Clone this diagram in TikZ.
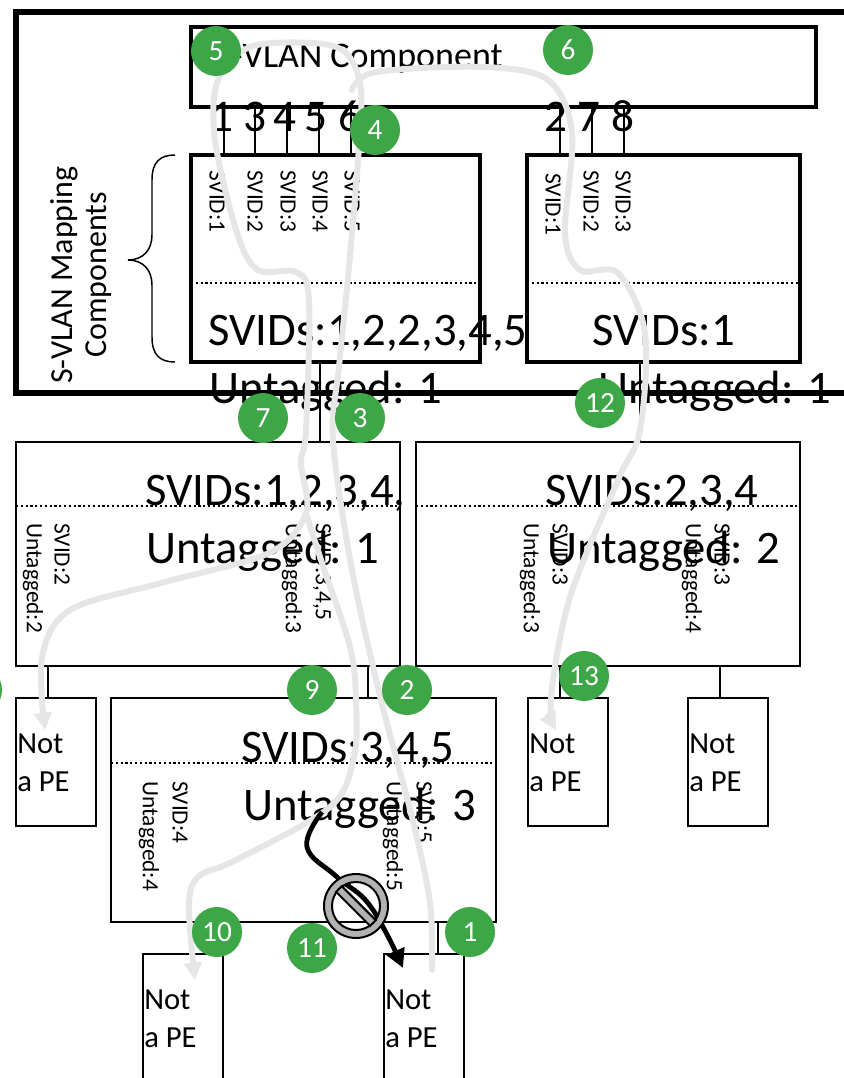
\documentclass[tikz,border=0pt]{standalone}
\usepackage{fontspec}
\setmainfont{Carlito}
\usepackage[x11names, svgnames]{xcolor}
\usetikzlibrary{arrows.meta, calc}
\definecolor{stepgreen}{HTML}{3DA646}
\definecolor{pathgray}{HTML}{E6E6E6}
\tikzset{
	thickbox/.style={draw, line width=3pt, inner sep=0pt, outer sep=0pt},
	thinbox/.style={draw, line width=1.9pt, inner sep=0pt, outer sep=0pt},
	link/.style={line width=1.3pt},
	splitline/.style={line width=1.6pt, dotted},
	bigtext/.style={anchor=base west, inner sep=0pt, font=\fontsize{35}{40}\selectfont},
	porttext/.style={anchor=base, inner sep=0pt, font=\fontsize{34}{40}\selectfont},
	sidetext/.style={rotate=-90, anchor=west, inner sep=0pt, font=\fontsize{17.5}{20}\selectfont},
	petext/.style={anchor=north west, inner sep=0pt, align=left, font=\fontsize{23}{28}\selectfont},
	steppoint/.style={circle, fill=stepgreen, text=white, minimum size=37.5pt, inner sep=0pt, font=\fontsize{22}{26}\selectfont},
	grayroute/.style={draw=pathgray, line width=4.5pt, line cap=round},
}
\newcommand{\PaperBox}[6]{
	\def\lstyle{#1}
	\def\lname{#2}
	\node[\lstyle, minimum width={(#5-#3)*0.75pt}, minimum height={(#6-#4)*0.75pt}] (\lname) at ({(#3+#5)/2},{(#4+#6)/2}) {};
}
\newcommand{\NotPE}[3]{
	\PaperBox{thinbox}{#1}{#2}{#3}{#2+80}{#3+128+60}
	\node[petext] (#1text) at ($ (#1.north west)+(1,36) $) {Not\\a PE};
}

\begin{document}
\begin{tikzpicture}[x=0.75pt, y=-0.75pt, line cap = butt]

	\useasboundingbox (0,0) rectangle (843,1078);

	% outer frame
	\draw[line width=4.5pt] (16,12) rectangle (900,393);

	\PaperBox{thickbox}{svlan}{191}{27}{816}{107}
	\PaperBox{thickbox}{mapl}{191}{155}{480}{362}
	\PaperBox{thickbox}{mapr}{527}{155}{800}{362}
	\PaperBox{thinbox}{lowa}{16}{442}{400}{666}
	\PaperBox{thinbox}{lowb}{416}{442}{800}{666}
	\PaperBox{thinbox}{lowc}{111}{698}{496}{922}

	\PaperBox{thinbox}{pea}{16}{698}{96}{826}
	\PaperBox{thinbox}{peb}{528}{698}{608}{826}
	\PaperBox{thinbox}{pec}{688}{698}{768}{826}
	\node[petext] (peatext) at ($ (pea.north west)+(1,36) $) {Not\\a PE};
	\node[petext] (pebtext) at ($ (peb.north west)+(1,36) $) {Not\\a PE};
	\node[petext] (pectext) at ($ (pec.north west)+(1,36) $) {Not\\a PE};
	\NotPE{ped}{143}{954}
	\NotPE{pee}{384}{954}

	% ports on the S-VLAN component
	\draw[link] ($ (mapl.north west)+(33,0) $) -- ($ (svlan.south west)+(33,0) $);
	\draw[link] ($ (mapl.north west)+(64,0) $) -- ($ (svlan.south west)+(64,0) $);
	\draw[link] ($ (mapl.north west)+(96,0) $) -- ($ (svlan.south west)+(96,0) $);
	\draw[link] ($ (mapl.north west)+(128,0) $) -- ($ (svlan.south west)+(128,0) $);
	\draw[link] ($ (mapl.north west)+(160,0) $) -- ($ (svlan.south west)+(160,0) $);
	\draw[link] ($ (mapr.north west)+(33,0) $) -- ($ (svlan.south west)+(369,0) $);
	\draw[link] ($ (mapr.north west)+(65,0) $) -- ($ (svlan.south west)+(401,0) $);
	\draw[link] ($ (mapr.north west)+(97,0) $) -- ($ (svlan.south west)+(433,0) $);

	\draw[link] ($ (mapl.south west)+(129,0) $) -- ($ (lowa.north west)+(304,0) $);
	\draw[link] ($ (mapr.south west)+(113,0) $) -- ($ (lowb.north west)+(224,0) $);
	\draw[link] ($ (lowa.south west)+(32,0) $) -- ($ (pea.north west)+(32,0) $);
	\draw[link] ($ (lowa.south west)+(352,0) $) -- ($ (lowc.north west)+(257,0) $);
	\draw[link] ($ (lowb.south west)+(144,0) $) -- ($ (peb.north west)+(32,0) $);
	\draw[link] ($ (lowb.south west)+(304,0) $) -- ($ (pec.north west)+(32,0) $);
	\draw[link] ($ (lowc.south west)+(327,0) $) -- ($ (pee.north west)+(54,0) $);

	% dotted splits
	\draw[splitline] (mapl.west |- 0,283) -- (mapl.east |- 0,283);
	\draw[splitline] (mapr.west |- 0,283) -- (mapr.east |- 0,283);
	\draw[splitline] (lowa.west |- 0,506) -- (lowa.east |- 0,506);
	\draw[splitline] (lowb.west |- 0,506) -- (lowb.east |- 0,506);
	\draw[splitline] (lowc.west |- 0,763) -- (lowc.east |- 0,763);

	% brace
	\draw[line width=1.1pt] (175,155) .. controls (160,155) and (152,162) .. (152,180) -- (152,235) .. controls (152,250) and (143,260) .. (128,260) .. controls (143,260) and (152,270) .. (152,285) -- (152,337) .. controls (152,355) and (160,362) .. (175,362);
	\node[rotate=90, align=center, inner sep=0pt, font=\fontsize{24}{26}\selectfont] (maptitle) at (81,275) {S-VLAN Mapping\\Components};

	\node[anchor=base east, inner sep=0pt, font=\fontsize{27}{32}\selectfont] (svlantitle) at (503,67) {S-VLAN Component};

	\node[porttext] (portone) at (222,131) {1};
	\node[porttext] (portthree) at (255,131) {3};
	\node[porttext] (portfour) at (285,131) {4};
	\node[porttext] (portfive) at (316,131) {5};
	\node[porttext] (portsix) at (350,131) {6};
	\node[porttext] (porttwo) at (556,131) {2};
	\node[porttext] (portseven) at (589,131) {7};
	\node[porttext] (porteight) at (623,131) {8};

	\node[sidetext] (mapla) at (217,170) {SVID:1};
	\node[sidetext] (maplb) at (255,170) {SVID:2};
	\node[sidetext] (maplc) at (288,170) {SVID:3};
	\node[sidetext] (mapld) at (320,170) {SVID:4};
	\node[sidetext] (maple) at (352,170) {SVID:5};
	\node[sidetext] (mapra) at (553,173) {SVID:1};
	\node[sidetext] (maprb) at (591,170) {SVID:2};
	\node[sidetext] (maprc) at (623,170) {SVID:3};

	\node[sidetext] (lowaa) at (33,523) {Untagged:2};
	\node[sidetext] (lowab) at (62,523) {SVID:2};
	\node[sidetext] (lowac) at (292,523) {Untagged:3};
	\node[sidetext] (lowad) at (322,523) {SVID:3,4,5};
	\node[sidetext] (lowba) at (530,523) {Untagged:3};
	\node[sidetext] (lowbb) at (560,523) {SVID:3};
	\node[sidetext] (lowbc) at (692,523) {Untagged:4};
	\node[sidetext] (lowbd) at (722,523) {SVID:3};
	\node[sidetext] (lowca) at (149,781) {Untagged:4};
	\node[sidetext] (lowcb) at (180,781) {SVID:4};
	\node[sidetext] (lowcc) at (393,781) {Untagged:5};
	\node[sidetext] (lowcd) at (424,781) {SVID:5};

	\node[bigtext] (maplsvid) at (208,345) {SVIDs:1,2,2,3,4,5};
	\node[bigtext] (maprsvid) at (592,345) {SVIDs:1};
	\node[bigtext] (mapluntag) at (209,403) {Untagged: 1};
	\node[bigtext] (mapruntag) at (598,403) {Untagged: 1};
	\node[bigtext] (lowasvid) at (145,505) {SVIDs:1,2,3,4,};
	\node[bigtext] (lowauntag) at (146,563) {Untagged: 1};
	\node[bigtext] (lowbsvid) at (545,505) {SVIDs:2,3,4};
	\node[bigtext] (lowbuntag) at (547,563) {Untagged: 2};
	\node[bigtext] (lowcsvid) at (241,762) {SVIDs:3,4,5};
	\node[bigtext] (lowcuntag) at (243,820) {Untagged: 3};

	% routes
	\coordinate (routestart) at (432,970);
	\coordinate (routefork) at (306,513);
	\draw[grayroute, -{Triangle[length=13pt, width=13pt]}] plot[smooth, tension=0.55] coordinates {(routestart) (430,903) (412,817) (381,700) (352,570) (333,440) (339,367) (349,267) (360,133) (360,83) (345,52) (312,43) (250,47) (218,80) (215,140) (237,233) (258,270) (296,272) (309,300) (306,430) (301,463) (routefork) (269,553) (161,583) (70,610) (42,657) (45,730)};
	\draw[grayroute, -{Triangle[length=13pt, width=13pt]}] plot[smooth, tension=0.55] coordinates {(routefork) (322,563) (350,647) (356,700) (354,757) (330,807) (236,860) (198,877) (189,907) (195,980)};
	\draw[grayroute, -{Triangle[length=13pt, width=13pt]}] plot[smooth, tension=0.55] coordinates {(352,90) (376,72) (484,67) (548,80) (572,133) (565,233) (580,270) (618,273) (645,333) (640,430) (618,480) (570,597) (551,697) (556,730)};
	\draw[line width=3.6pt, -{Triangle[length=14pt, width=14pt]}] plot[smooth, tension=0.7] coordinates {(322,812) (307,847) (337,877) (371,907) (403,968)};

	% blocked sign
	\coordinate (blocked) at (356,906);
	\fill[gray!60, draw=black, line width=1.5pt, even odd rule] (blocked) circle (32) (blocked) circle (24);
	\begin{scope}[shift={(blocked)}, rotate=-45]
		\filldraw[fill=gray!60, draw=black, line width=1.5pt] (-24,-4) rectangle (24,4);
	\end{scope}

	\node[steppoint] (stepone) at (470,932) {1};
	\node[steppoint] (steptwo) at (407,690) {2};
	\node[steppoint] (stepthree) at (360,418) {3};
	\node[steppoint] (stepfour) at (375,130) {4};
	\node[steppoint] (stepfive) at (216,51) {5};
	\node[steppoint] (stepsix) at (568,50) {6};
	\node[steppoint] (stepseven) at (263,418) {7};
	\node[steppoint] (stepeight) at (-23,690) {};
	\node[steppoint] (stepnine) at (312,690) {9};
	\node[steppoint] (stepten) at (217,932) {10};
	\node[steppoint] (stepeleven) at (312,948) {11};
	\node[steppoint] (steptwelve) at (600,403) {12};
	\node[steppoint] (stepthirteen) at (584,676) {13};

\end{tikzpicture}
\end{document}
